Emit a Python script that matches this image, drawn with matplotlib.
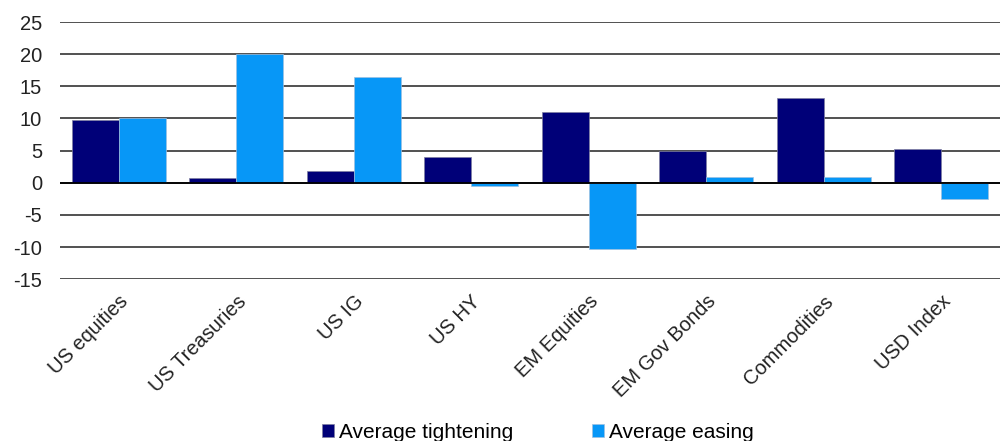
import numpy as np
import matplotlib.pyplot as plt

plt.rcParams['font.family'] = ['Liberation Sans', 'DejaVu Sans']
plt.rcParams['axes.unicode_minus'] = False

categories = ["US equities", "US Treasuries", "US IG", "US HY", "EM Equities",
              "EM Gov Bonds", "Commodities", "USD Index"]
tightening = [9.8, 0.8, 1.8, 4.0, 11.0, 5.0, 13.2, 5.2]
easing = [10.1, 20.0, 16.4, -0.5, -10.3, 0.9, 0.9, -2.5]

x = np.arange(len(categories))
w = 0.4

fig = plt.figure(figsize=(10.04, 4.41), dpi=100)
ax = fig.add_axes([0.0598, 0.367, 0.936, 0.583])

ax.bar(x - w / 2, tightening, w, color="#000078", edgecolor="#8080a0", linewidth=0.5,
       label="Average tightening", zorder=3)
ax.bar(x + w / 2, easing, w, color="#0797F7", edgecolor="#a0c0e0", linewidth=0.5,
       label="Average easing", zorder=3)

ax.set_ylim(-15, 25)
ax.set_xlim(-0.5, len(categories) - 0.5)
ax.set_yticks(np.arange(-15, 26, 5))
ax.yaxis.grid(True, color="#333333", linewidth=1.2, zorder=0)
ax.axhline(0, color="black", linewidth=1.3, zorder=4)
for s in ax.spines.values():
    s.set_visible(False)
ax.tick_params(axis="both", length=0, labelsize=14.5, colors="#222222")
ax.tick_params(axis="y", pad=13)
ax.set_xticks(x)
ax.set_xticklabels(categories, rotation=45, ha="right", rotation_mode="anchor")
ax.tick_params(axis="x", pad=9)

fig.legend(loc="lower center", bbox_to_anchor=(0.536, -0.045), ncol=2, frameon=False,
           fontsize=15, handlelength=0.55, handleheight=0.55, handletextpad=0.25,
           columnspacing=3.8)

fig.savefig("out.png", dpi=100)
